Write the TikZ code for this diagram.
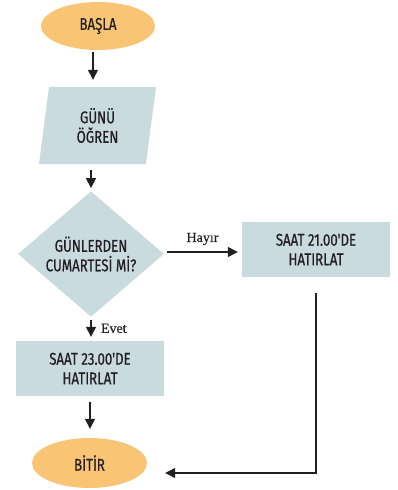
\documentclass[tikz,border=0pt]{standalone}
\usepackage{fontspec}
\setmainfont{Liberation Serif}
\newfontfamily\cond[FakeStretch=0.78,FakeBold=0.6]{Fira Sans}
\newfontfamily\serifb[FakeBold=0.4]{Liberation Serif}
\usetikzlibrary{shapes.geometric,arrows.meta,calc}
\definecolor{orng}{HTML}{FAC475}
\definecolor{pale}{HTML}{CADBE0}
\definecolor{ink}{HTML}{231F20}
\begin{document}
\begin{tikzpicture}[x=1pt,y=-1pt,
  lbl/.style={font=\cond\fontsize{17}{19.5}\selectfont,text=ink,align=center},
  term/.style={lbl,ellipse,fill=orng,inner sep=0pt},
  proc/.style={lbl,rectangle,fill=pale,minimum width=148pt,minimum height=55pt,inner sep=0pt},
  decision/.style={lbl,diamond,fill=pale,minimum width=146pt,minimum height=108pt,inner sep=0pt},
  arr/.style={draw=ink,line width=1.3pt,-{Triangle[length=10pt,width=10pt]}},
  side/.style={font=\serifb\fontsize{14}{16}\selectfont,text=ink}]
\useasboundingbox (0,0) rectangle (398,490);
\node[term,minimum width=114pt,minimum height=48pt] (basla) at (98,26) {BAŞLA};
\fill[pale] (39,164) -- (49,87) -- (156,87) -- (146,164) -- cycle;
\node[lbl,rectangle,minimum width=117pt,minimum height=77pt,inner sep=0pt] (gunu) at (97.5,125.5) {GÜNÜ\\ÖĞREN};
\node[decision] (dec) at (91,254) {GÜNLERDEN\\CUMARTESİ Mİ?};
\node[proc] (right) at (316,249.5) {SAAT 21.00'DE\\HATIRLAT};
\node[proc] (left) at (90,368.5) {SAAT 23.00'DE\\HATIRLAT};
\node[term,minimum width=115pt,minimum height=50pt] (bitir) at (89.5,463) {BİTİR};
\draw[arr] ($(basla.south)+(-5,2)$) -- ($(gunu.north)+(-4.5,-7)$);
\draw[arr] ($(gunu.south)+(-6.5,6)$) -- ($(dec.north)+(0,-3)$);
\draw[arr] ($(dec.south)+(0,3)$) -- node[side,right=6pt,pos=0.5] (evet) {Evet} ($(left.north)+(1,-4)$);
\draw[arr] ($(left.south)+(0,6)$) -- ($(bitir.north)+(0.5,-9)$);
\draw[arr] ($(dec.east)+(3,-2)$) -- node[side,above=3pt] (hayir) {Hayır} ($(right.west)+(-4,2.5)$);
\draw[arr] ($(right.south)+(0,16)$) |- ($(bitir.east)+(18,10)$);
\end{tikzpicture}
\end{document}
